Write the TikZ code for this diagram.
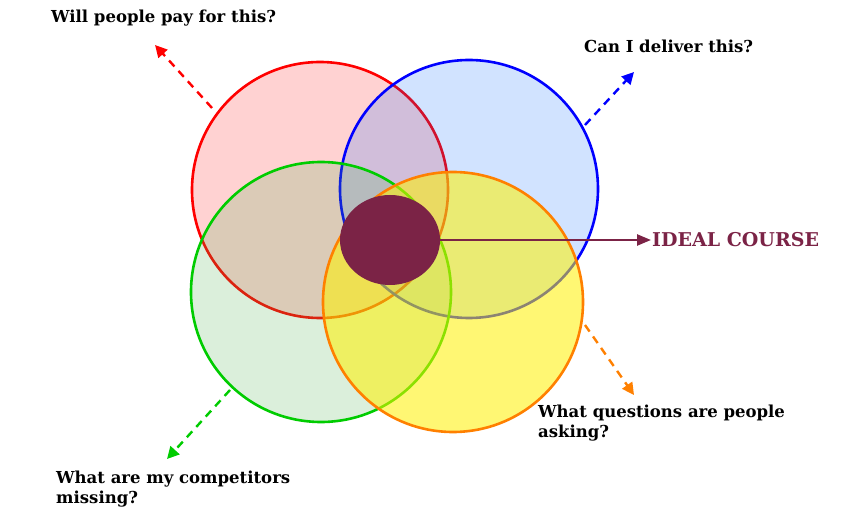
\documentclass[tikz,border=0pt]{standalone}
\usepackage{fontspec}
\setmainfont{DejaVu Serif}
\usetikzlibrary{arrows.meta,shapes.geometric}
\definecolor{ideal}{HTML}{7B2346}
\tikzset{
  circ/.style={line width=2.6pt, fill opacity=#1},
  darr/.style={line width=2.4pt, dash pattern=on 8pt off 6pt, -{Triangle[length=12pt,width=12pt]}},
  lbl/.style={font=\bfseries\fontsize{16.5}{20}\selectfont, align=left, text=black}
}
\begin{document}
\begin{tikzpicture}[x=1pt,y=-1pt]
\useasboundingbox (0,0) rectangle (855,518);
\fill[white] (0,0) rectangle (855,518);
\draw[circ=0.22, draw=red, fill=red!80] (320,190) circle (128);
\draw[circ=0.18, draw=blue, fill=blue!60!cyan] (469,189) circle (129);
\draw[circ=0.2, draw=green!80!black, fill=green!40!gray] (321,292) circle (130);
\draw[circ=0.55, draw=orange, fill=yellow] (453,302) circle (130);
\node[ellipse, fill=ideal, minimum width=100pt, minimum height=90pt, inner sep=0] (core) at (390,240) {};
\node[font=\bfseries\fontsize{19}{22}\selectfont, text=ideal, anchor=west, inner sep=1pt] (ic) at (651,240) {IDEAL COURSE};
\draw[ideal, line width=2.4pt, -{Triangle[length=14pt,width=11pt]}] (core.center) -- (ic.west);
\coordinate (r1) at (212,108); \coordinate (r2) at (155,45);
\coordinate (b1) at (585,125); \coordinate (b2) at (634,72);
\coordinate (g1) at (230,390); \coordinate (g2) at (167,459);
\coordinate (y1) at (585,325); \coordinate (y2) at (634,395);
\draw[darr, red] (r1) -- (r2);
\draw[darr, blue] (b1) -- (b2);
\draw[darr, green!80!black] (g1) -- (g2);
\draw[darr, orange] (y1) -- (y2);
\node[lbl, anchor=west, inner sep=0] (t1) at (51,18) {Will people pay for this?};
\node[lbl, anchor=west, inner sep=0] (t2) at (584,46) {Can I deliver this?};
\node[lbl, anchor=north west, inner sep=0] (t3) at (538,405) {What questions are people\\asking?};
\node[lbl, anchor=north west, inner sep=0] (t4) at (56,471) {What are my competitors\\missing?};
\end{tikzpicture}
\end{document}
